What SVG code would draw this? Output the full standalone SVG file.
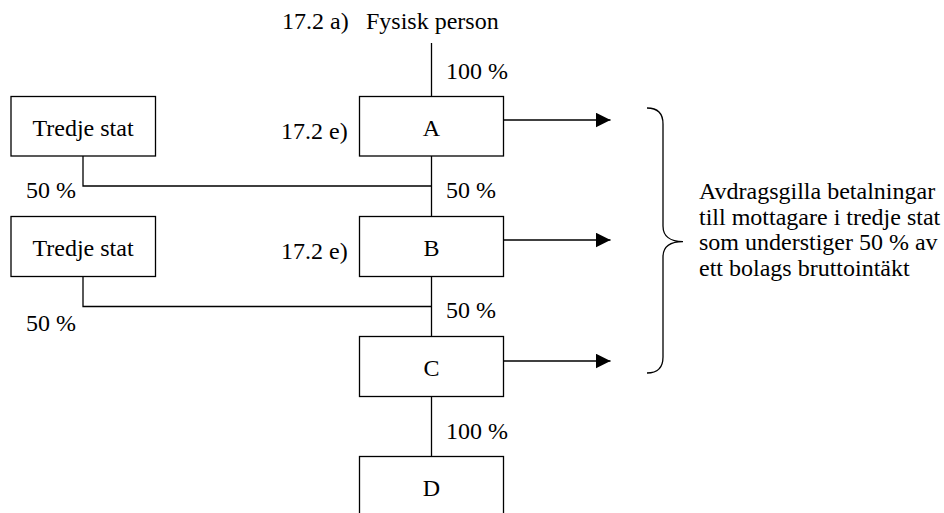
<svg xmlns="http://www.w3.org/2000/svg" width="944" height="513" viewBox="0 0 944 513">
<defs>
<style>
text{font-family:'Liberation Serif','Times New Roman',Times,'Tinos','Noto Serif','DejaVu Serif',serif;font-size:24px;fill:#000}
.c{text-anchor:middle}
.box{fill:#fff;stroke:#000;stroke-width:1.3}
.ln{fill:none;stroke:#000;stroke-width:1.3}
</style>
<marker id="ah" markerWidth="15" markerHeight="15" refX="15" refY="7.5" orient="auto" markerUnits="userSpaceOnUse">
<path d="M0,0 L15,7.5 L0,15 Z" fill="#000"/>
</marker>
</defs>
<rect width="944" height="513" fill="#fff"/>
<g id="connectors">
<path class="ln" d="M431.5,43 V96.5"/>
<path class="ln" d="M431.5,156 V216.5"/>
<path class="ln" d="M83,156 V186 H431.5"/>
<path class="ln" d="M431.5,276.5 V336.5"/>
<path class="ln" d="M83,276.5 V306.5 H431.5"/>
<path class="ln" d="M431.5,396.5 V456.5"/>
<path class="ln" d="M503.5,120 H610.5" marker-end="url(#ah)"/>
<path class="ln" d="M503.5,240 H610.5" marker-end="url(#ah)"/>
<path class="ln" d="M503.5,361 H610.5" marker-end="url(#ah)"/>
</g>
<g id="fysisk">
<text x="282" y="29">17.2 a)</text>
<text x="366" y="29">Fysisk person</text>
</g>
<g id="nodeA">
<rect class="box" x="359.5" y="96.5" width="144" height="59.5"/>
<text class="c" x="431.5" y="135.5">A</text>
</g>
<g id="nodeB">
<rect class="box" x="359.5" y="216.5" width="144" height="60"/>
<text class="c" x="431.5" y="255.5">B</text>
</g>
<g id="nodeC">
<rect class="box" x="359.5" y="336.5" width="144" height="60"/>
<text class="c" x="431.5" y="375.5">C</text>
</g>
<g id="nodeD">
<rect class="box" x="359.5" y="456.5" width="144" height="70"/>
<text class="c" x="431.5" y="495.5">D</text>
</g>
<g id="tredje1">
<rect class="box" x="11" y="96.5" width="144.5" height="59.5"/>
<text class="c" x="83" y="135.5">Tredje stat</text>
</g>
<g id="tredje2">
<rect class="box" x="11" y="216.5" width="144.5" height="60"/>
<text class="c" x="83" y="255.5">Tredje stat</text>
</g>
<g id="labels">
<text x="446" y="79">100 %</text>
<text x="281" y="139">17.2 e)</text>
<text x="281" y="259">17.2 e)</text>
<text x="26" y="197.5">50 %</text>
<text x="446" y="198">50 %</text>
<text x="26" y="330.5">50 %</text>
<text x="446" y="318">50 %</text>
<text x="446" y="439">100 %</text>
</g>
<g id="brace">
<path class="ln" d="M647,108 C657,108 663,113 663,124 V226 C663,236 670,241.7 683,241.7 C670,241.7 663,247 663,257 V357 C663,368 657,373 647,373"/>
</g>
<g id="note">
<text x="699" y="199">Avdragsgilla betalningar</text>
<text x="699" y="224.5">till mottagare i tredje stat</text>
<text x="699" y="250">som understiger 50 % av</text>
<text x="699" y="275.5">ett bolags bruttointäkt</text>
</g>
</svg>
